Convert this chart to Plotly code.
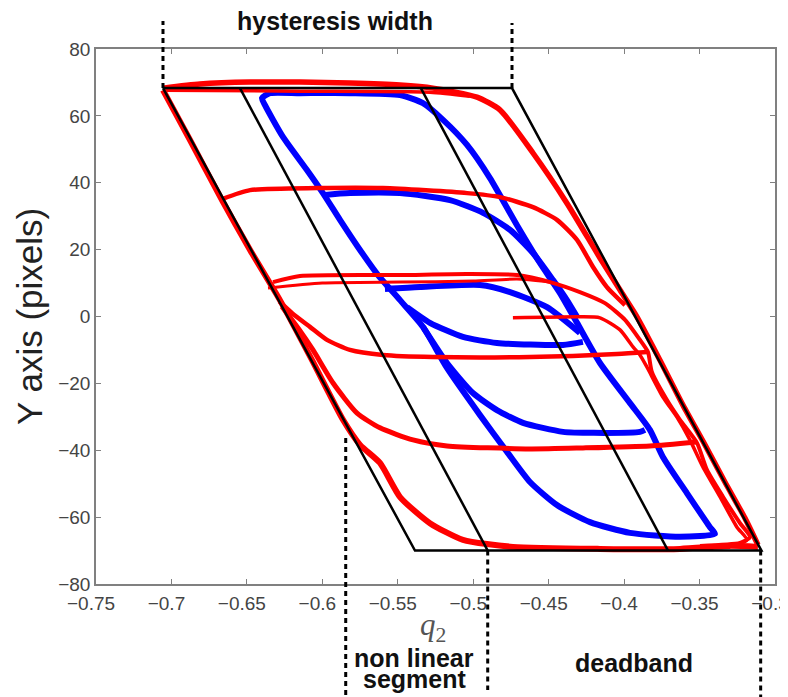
import plotly.graph_objects as go

# ---------------- data ----------------
x_tickvals = [-0.75, -0.7, -0.65, -0.6, -0.55, -0.5, -0.45, -0.4, -0.35, -0.3]
x_ticktext = ["\u22120.75", "\u22120.7", "\u22120.65", "\u22120.6", "\u22120.55",
              "\u22120.5", "\u22120.45", "\u22120.4", "\u22120.35", "\u22120.3"]
y_tickvals = [-80, -60, -40, -20, 0, 20, 40, 60, 80]
y_ticktext = ["\u221280", "\u221260", "\u221240", "\u221220", "0", "20", "40", "60", "80"]

# blue loops
blue_outer_x = [-0.5333, -0.5485, -0.5631, -0.5764, -0.5883, -0.5996, -0.6102, -0.6261,
                -0.6380, -0.6400, -0.6347, -0.6148, -0.5817, -0.5485, -0.5333, -0.5200, -0.5041,
                -0.4889, -0.4710, -0.4558, -0.4425, -0.4312, -0.4160, -0.3961, -0.3829, -0.3743,
                -0.3584, -0.3431, -0.3398, -0.3630, -0.3961, -0.4226, -0.4445, -0.4624, -0.4776,
                -0.4955, -0.5174, -0.5333]
blue_outer_y = [-3.1, 4.9, 12.4, 20.8, 28.9, 36.9, 43.8, 53.7,
                63.2, 65.3, 66.8, 66.8, 66.8, 66.2, 63.8, 58.8, 51.3,
                41.4, 27.3, 16.0, 7.0, -1.9, -13.9, -25.9, -33.9, -42.0,
                -52.8, -63.0, -65.0, -65.9, -64.7, -61.5, -56.4, -49.5, -40.5,
                -29.5, -15.4, -3.1]
blue_36_x = [-0.5996, -0.5817, -0.5485, -0.5154, -0.4935, -0.4756, -0.4604, -0.4471, -0.4379, -0.4312]
blue_36_y = [36.3, 36.9, 36.9, 34.8, 31.0, 25.9, 19.0, 10.9, 4.9, -0.1]
blue_8_x = [-0.5585, -0.5353, -0.4955, -0.4756, -0.4511, -0.4293]
blue_8_y = [8.2, 8.8, 9.4, 7.3, 2.8, -4.9]
blue_m8_x = [-0.5439, -0.5287, -0.5068, -0.4843, -0.4405, -0.4273]
blue_m8_y = [2.8, -1.9, -6.1, -7.9, -8.5, -7.6]
blue_m35_x = [-0.5333, -0.5174, -0.5002, -0.4843, -0.4670, -0.4405, -0.4200, -0.3895, -0.3862]
blue_m35_y = [-3.1, -13.9, -22.9, -28.0, -31.8, -34.5, -34.8, -34.5, -33.9]

# red loops
red_top_x = [-0.7056, -0.6811, -0.6479, -0.6148, -0.5817, -0.5485, -0.5267, -0.4975, -0.4823,
             -0.4604, -0.4379, -0.4160, -0.4027, -0.3915, -0.3763, -0.3610, -0.3464, -0.3332,
             -0.3199, -0.3113]
red_top_y = [68.3, 69.5, 70.1, 70.1, 69.8, 69.2, 68.3, 65.6, 61.8,
             48.9, 33.9, 17.5, 7.9, -0.1, -13.0, -26.5, -38.4, -49.5,
             -60.3, -68.3]
red_top2_x = [-0.7043, -0.6148, -0.5287, -0.5022]
red_top2_y = [67.7, 67.4, 67.1, 65.9]
red_left_x = [-0.7056, -0.6877, -0.6665, -0.6479, -0.6281, -0.6069, -0.5863, -0.5750, -0.5618,
              -0.5485, -0.5287, -0.5068, -0.4737, -0.4160, -0.3630, -0.3299, -0.3113]
red_left_y = [67.7, 52.8, 34.8, 19.9, 4.9, -13.0, -30.9, -38.4, -43.8,
              -54.0, -61.8, -66.8, -68.9, -69.5, -69.5, -68.6, -68.9]
red_38_x = [-0.6660, -0.6479, -0.6035, -0.5598, -0.5041, -0.4823, -0.4604, -0.4445, -0.4312,
            -0.4206, -0.4114, -0.3994]
red_38_y = [35.2, 37.8, 38.4, 38.4, 36.9, 35.7, 32.7, 28.9, 22.9, 14.8, 8.8, 3.4]
red_12_x = [-0.6327, -0.6148, -0.5485, -0.5041, -0.4710, -0.4491, -0.4293, -0.4127, -0.3994,
            -0.3895, -0.3842, -0.3816, -0.3716, -0.3630, -0.3517, -0.3451, -0.3345, -0.3232,
            -0.3166, -0.3232, -0.3497]
red_12_y = [10.3, 12.1, 12.4, 12.7, 12.4, 10.3, 7.3, 4.0, -1.0,
            -7.0, -10.6, -16.6, -25.0, -30.9, -37.8, -45.9, -53.9, -61.8,
            -66.0, -67.7, -68.6]
red_12b_x = [-0.6360, -0.6000, -0.5485, -0.5000, -0.4710, -0.4491]
red_12b_y = [8.5, 10.0, 10.3, 10.6, 11.2, 10.3]
red_m12_x = [-0.6285, -0.6200, -0.6082, -0.5969, -0.5817, -0.5598, -0.5267, -0.4624, -0.4047, -0.3849]
red_m12_y = [4.5, 1.0, -3.1, -7.0, -10.0, -11.5, -12.1, -12.1, -11.2, -10.6]
red_start_x = [-0.4737, -0.4293, -0.4160, -0.4027, -0.3941, -0.3895, -0.3849, -0.3743, -0.3650,
               -0.3564, -0.3478, -0.3365, -0.3252, -0.3186, -0.3266, -0.3564]
red_start_y = [-0.4, -0.1, -0.4, -4.0, -9.1, -11.5, -15.1, -24.1, -30.1,
               -36.9, -45.0, -53.9, -63.0, -66.8, -68.3, -69.2]
red_m40_x = [-0.6268, -0.6160, -0.6062, -0.5929, -0.5770, -0.5618, -0.5399, -0.5174, -0.4624,
             -0.4273, -0.3829, -0.3517]
red_m40_y = [3.0, -3.5, -10.0, -19.9, -28.9, -33.3, -36.9, -38.7, -39.6, -39.3, -38.7, -37.5]

# black model (parallelogram and inner lines)
para_x = [-0.7056, -0.4743, -0.3090, -0.5386, -0.7056]
para_y = [68.3, 68.3, -70.0, -70.0, 68.3]
inner1_x = [-0.6546, -0.4904]
inner1_y = [68.3, -70.0]
inner2_x = [-0.5347, -0.3709]
inner2_y = [68.3, -70.0]

# dotted guide lines (x position, y from, y to) in data units
guide_x = [-0.7056, -0.4743, -0.5845, -0.4904, -0.3095]
guide_y0 = [68.3, 68.3, -36.3, -70.0, -70.0]
guide_y1 = [88.4, 87.8, -113.5, -111.7, -114.5]

X_RANGE = [-0.75, -0.3]
Y_RANGE = [-80, 80]

# ---------------- figure ----------------
fig = go.Figure()
BLUE = "#0000ff"
RED = "#ff0000"


def add_curve(xs, ys, color, width):
    fig.add_trace(go.Scatter(x=xs, y=ys, mode="lines",
                             line=dict(color=color, width=width, shape="spline", smoothing=0.6),
                             hoverinfo="skip", showlegend=False))


for xs, ys in [(blue_outer_x, blue_outer_y), (blue_36_x, blue_36_y), (blue_8_x, blue_8_y),
               (blue_m8_x, blue_m8_y), (blue_m35_x, blue_m35_y)]:
    add_curve(xs, ys, BLUE, 6)

for xs, ys, w in [(red_top_x, red_top_y, 5.5), (red_top2_x, red_top2_y, 3.5),
                  (red_left_x, red_left_y, 6), (red_38_x, red_38_y, 4.5),
                  (red_12_x, red_12_y, 4), (red_12b_x, red_12b_y, 3),
                  (red_m12_x, red_m12_y, 4.5), (red_start_x, red_start_y, 3.5),
                  (red_m40_x, red_m40_y, 5)]:
    add_curve(xs, ys, RED, w)

for xs, ys in [(para_x, para_y), (inner1_x, inner1_y), (inner2_x, inner2_y)]:
    fig.add_trace(go.Scatter(x=xs, y=ys, mode="lines",
                             line=dict(color="black", width=2.5),
                             hoverinfo="skip", showlegend=False))


def to_paper(yv):
    return (yv - Y_RANGE[0]) / (Y_RANGE[1] - Y_RANGE[0])


for gx, g0, g1 in zip(guide_x, guide_y0, guide_y1):
    fig.add_shape(type="line", xref="x", yref="paper",
                  x0=gx, x1=gx, y0=to_paper(g0), y1=to_paper(g1),
                  line=dict(color="black", width=3, dash="5px,4px"))

BOLD = "Liberation Sans, Arial, sans-serif"
ann = [
    dict(text="<b>hysteresis width</b>", x=0.3527, y=1.053),
    dict(text="<b>non linear</b>", x=0.469, y=-0.1380),
    dict(text="<b>segment</b>", x=0.469, y=-0.1770),
    dict(text="<b>deadband</b>", x=0.793, y=-0.1477),
]
for a in ann:
    fig.add_annotation(text=a["text"], x=a["x"], y=a["y"], xref="paper", yref="paper",
                       xanchor="center", yanchor="middle", showarrow=False,
                       font=dict(family=BOLD, size=25, color="#111111"))

fig.add_annotation(text="<i>q</i><sub>2</sub>", x=0.496, y=-0.080, xref="paper", yref="paper",
                   xanchor="center", yanchor="middle", showarrow=False,
                   font=dict(family="Liberation Serif, DejaVu Serif, serif", size=31, color="#555555"))
fig.add_annotation(text="Y axis (pixels)", x=-0.098, y=0.5, xref="paper", yref="paper",
                   xanchor="center", yanchor="middle", showarrow=False, textangle=-90,
                   font=dict(family=BOLD, size=35, color="#222222"))

axis_common = dict(showgrid=False, zeroline=False, showline=True, linecolor="#808080",
                   linewidth=1.5, mirror="all", ticks="inside", ticklen=5, tickwidth=1,
                   tickcolor="#808080", ticklabeloverflow="allow",
                   tickfont=dict(family=BOLD, size=19, color="#444444"))

# the page body adds an 8 px offset, so the figure is 8 px smaller on each axis
fig.update_layout(
    width=780, height=689,
    margin=dict(l=88, r=13, t=41, b=113, autoexpand=False),
    paper_bgcolor="white", plot_bgcolor="white",
    xaxis=dict(range=X_RANGE, tickvals=x_tickvals, ticktext=x_ticktext,
               ticklabelshift=-5, ticklabelstandoff=1, **axis_common),
    yaxis=dict(range=Y_RANGE, tickvals=y_tickvals, ticktext=y_ticktext, **axis_common),
    showlegend=False,
)

fig.write_html("out.html")
